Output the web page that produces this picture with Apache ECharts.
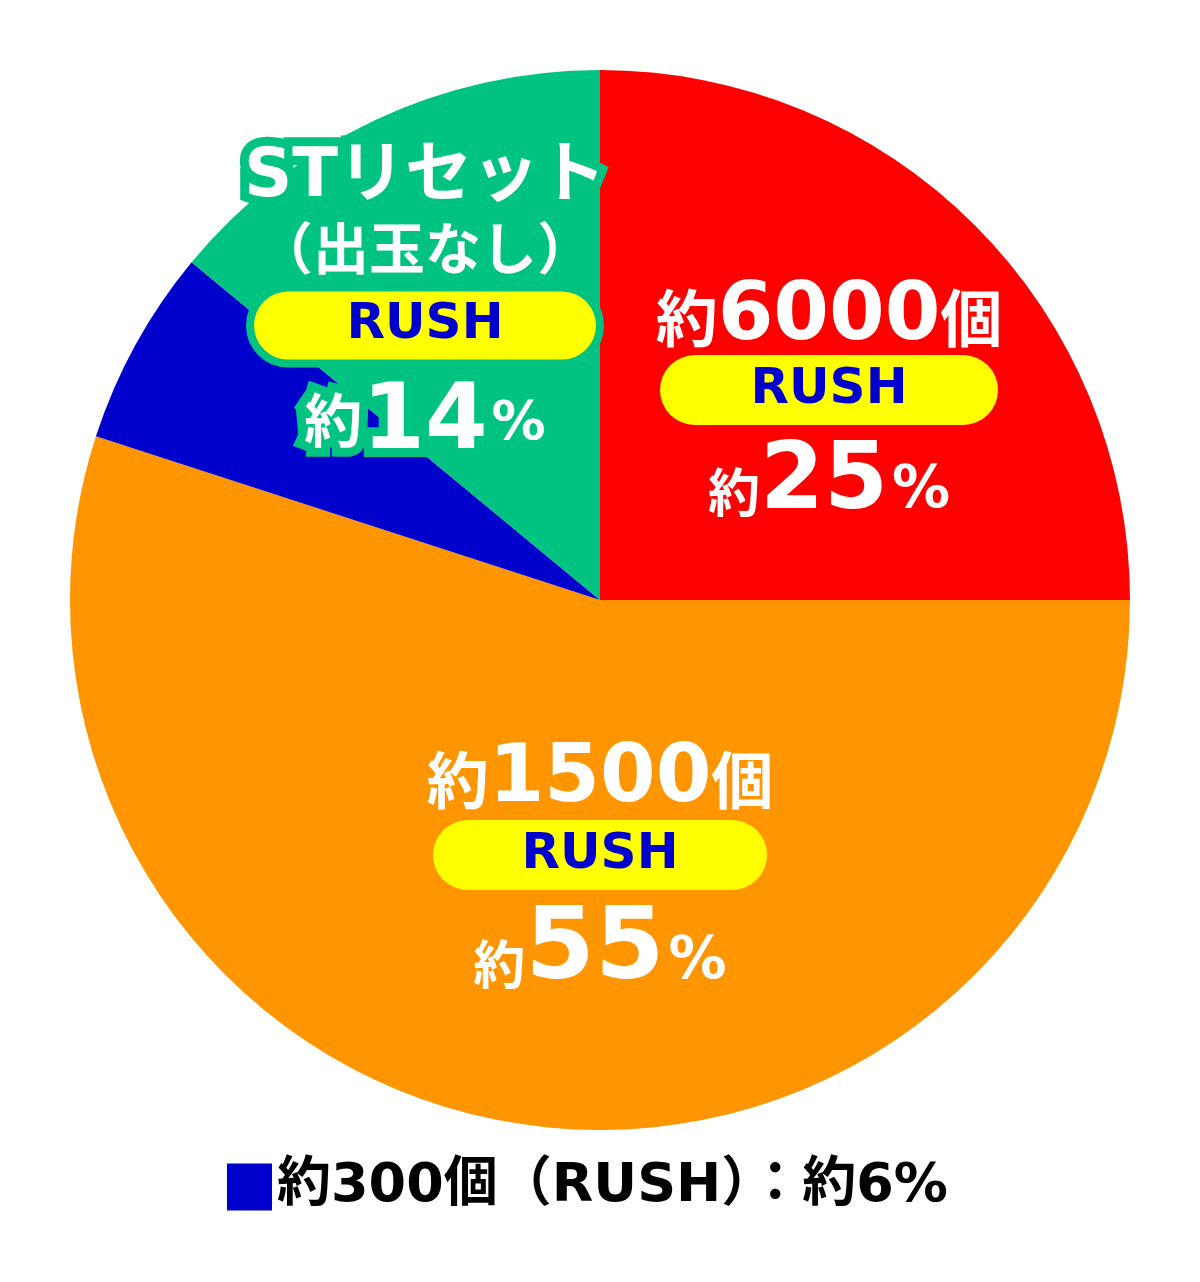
<!DOCTYPE html>
<html><head><meta charset="utf-8">
<script src="https://cdn.jsdelivr.net/npm/echarts@6/dist/echarts.min.js"></script>
<style>html,body{margin:0;padding:0;background:#fff}#c{width:1200px;height:1282px}</style>
</head><body><div id="c"></div>
<script>
// ---- data ----
const names = ['約6000個', '約1500個', '約300個', 'STリセット'];
const values = [25, 55, 6, 14];
const counts = ['6000', '1500', '300', ''];
const notes = ['', '', '', '（出玉なし）'];
const tags = ['RUSH', 'RUSH', 'RUSH', 'RUSH'];
const legendNames = ['約300個'];

// ---- style ----
const colors = ['#FF0000', '#FF9500', '#0000CC', '#00C382'];
const labelPos = [[829, 399], [600, 864], null, [425, 300]];
const pillW = [338, 334, 0, 342];
const bigSize = [92, 100, 0, 90];
const LAT = '"DejaVu Sans", "Noto Sans CJK JP", sans-serif';
const CJK = '"Noto Sans CJK JP", sans-serif';

function labelText(i) {
  const v = values[i];
  let s = '';
  if (counts[i]) s += '{c|約}{n|' + counts[i] + '}{c|個}\n';
  else s += '{t|' + names[i] + '}\n{t2|' + notes[i] + '}\n';
  s += '{pill' + i + '|' + tags[i] + '}\n';
  s += '{cs|約}{big|' + v + '}{pct|%}';
  return s;
}

function rich(i) {
  const lh1 = i === 1 ? 92 : 85;
  const lh3 = i === 3 ? 95 : (i === 1 ? 110 : 103);
  const base = {
    c: {fontFamily: CJK, fontWeight: 'bold', fontSize: 62, lineHeight: lh1, padding: [12, 0, 0, 0], color: '#fff'},
    n: {fontFamily: LAT, fontWeight: 'bold', fontSize: 80, lineHeight: lh1, padding: [12, 0, 0, 0], color: '#fff'},
    t: {fontFamily: LAT, fontWeight: 'bold', fontSize: 67, lineHeight: 73, padding: [8, 0, 0, 0], color: '#fff'},
    t2: {fontFamily: CJK, fontWeight: 'bold', fontSize: 56, lineHeight: 73, color: '#fff'},
    cs: {fontFamily: CJK, fontWeight: 'bold', fontSize: i === 3 ? 58 : 52, lineHeight: 60, verticalAlign: 'bottom',
         padding: [0, 0, i === 3 ? 13 : 10, 0], color: '#fff'},
    big: {fontFamily: LAT, fontWeight: 'bold', fontSize: bigSize[i], lineHeight: lh3,
          padding: [i === 3 ? 20 : 14, 0, 0, 0], color: '#fff'},
    pct: {fontFamily: LAT, fontWeight: 'bold', fontSize: i === 3 ? 54 : 58, lineHeight: 60, verticalAlign: 'bottom',
          padding: [0, 0, i === 3 ? 10 : 8, 4], color: '#fff'}
  };
  base['pill' + i] = {
    fontFamily: LAT, fontWeight: 'bold', fontSize: 50, color: '#0000CC',
    backgroundColor: '#FFFF00', width: pillW[i], height: i === 3 ? 68 : 70,
    lineHeight: i === 3 ? 83 : (i === 1 ? 70 : 71), align: 'center',
    borderRadius: 35, textBorderWidth: 0,
    borderColor: i === 3 ? colors[3] : 'transparent', borderWidth: i === 3 ? 8 : 0
  };
  return base;
}

const data = names.map((n, i) => ({
  name: n,
  value: values[i],
  itemStyle: {color: colors[i]},
  label: i === 2 ? {show: false} : {
    show: true,
    position: 'inside',
    formatter: labelText(i),
    rich: rich(i),
    color: '#fff',
    textBorderColor: i === 3 ? colors[3] : 'transparent',
    textBorderWidth: i === 3 ? 18 : 0,
    lineHeight: 70
  }
}));

const chart = echarts.init(document.getElementById('c'));
chart.setOption({
  animation: false,
  backgroundColor: '#fff',
  legend: {
    data: legendNames,
    left: 222, top: 1154,
    icon: 'rect', itemWidth: 45, itemHeight: 47, itemGap: 10,
    selectedMode: false,
    formatter: n => n + '（' + tags[2] + '）：約' + values[names.indexOf(n)] + '%',
    textStyle: {fontFamily: LAT, fontWeight: 'bold', fontSize: 54, lineHeight: 56, color: '#000'}
  },
  series: [{
    type: 'pie',
    center: [600, 600],
    radius: 530,
    startAngle: 90,
    clockwise: true,
    avoidLabelOverlap: false,
    labelLine: {show: false},
    emphasis: {disabled: true},
    itemStyle: {borderWidth: 0},
    labelLayout: p => labelPos[p.dataIndex] ? {x: labelPos[p.dataIndex][0], y: labelPos[p.dataIndex][1], align: 'center', verticalAlign: 'middle'} : {},
    data: data
  }]
});
</script></body></html>
